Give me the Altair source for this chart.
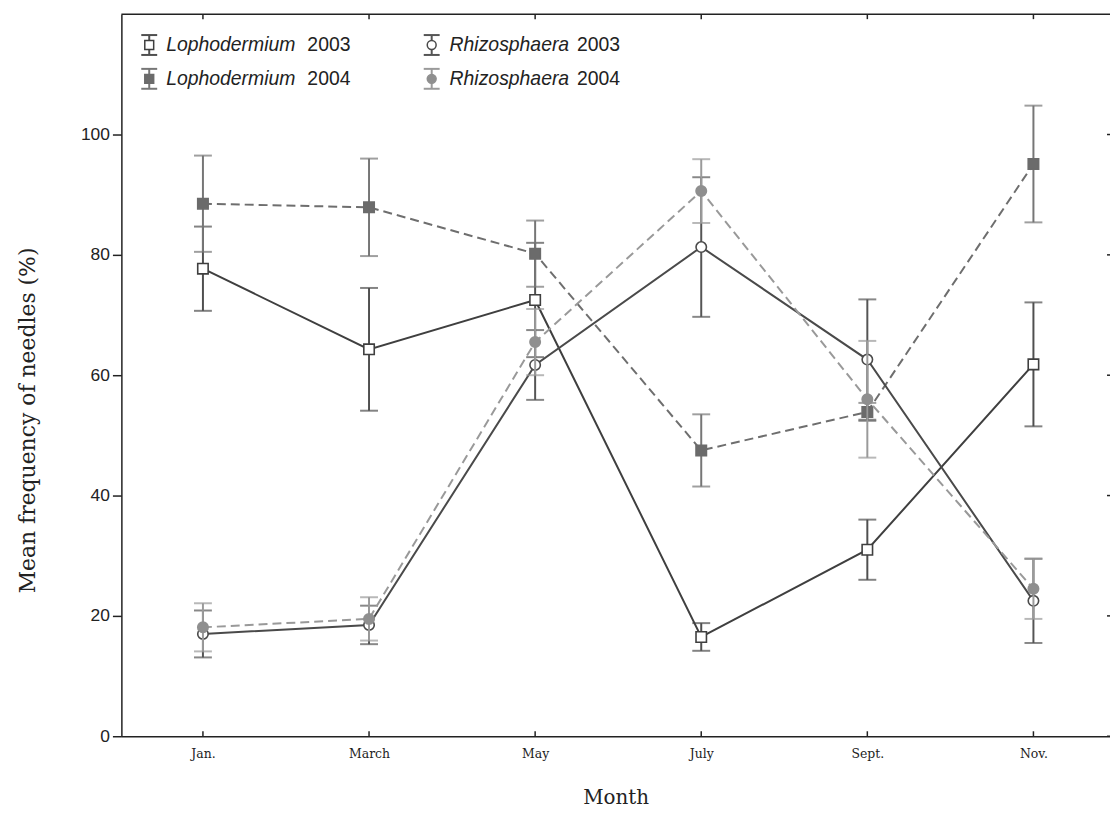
import json
import altair as alt
import pandas as pd

# ---------------- data ----------------
months = ["Jan.", "March", "May", "July", "Sept.", "Nov."]

loph_2003 = [77.7, 64.3, 72.5, 16.5, 31.0, 61.8]
loph_2003_err = [7.0, 10.2, 9.5, 2.3, 5.0, 10.3]

loph_2004 = [88.5, 87.9, 80.2, 47.5, 53.9, 95.1]
loph_2004_err = [8.0, 8.1, 5.5, 6.0, 1.5, 9.7]

rhizo_2003 = [17.0, 18.5, 61.7, 81.3, 62.6, 22.5]
rhizo_2003_err = [3.9, 3.2, 5.8, 11.6, 10.0, 7.0]

rhizo_2004 = [18.1, 19.5, 65.5, 90.6, 56.0, 24.5]
rhizo_2004_err = [4.0, 3.6, 5.5, 5.3, 9.7, 5.0]

y_ticks = [0, 20, 40, 60, 80, 100]

legend_species = ["Lophodermium", "Lophodermium", "Rhizosphaera", "Rhizosphaera"]
legend_years = ["2003", "2004", "2003", "2004"]

# ---------------- layout ----------------
W, H = 994, 726
SERIF = "DejaVu Serif"
SANS = "Liberation Sans"

xscale = alt.Scale(domain=[-0.491, 5.461], nice=False, zero=False)
yscale = alt.Scale(domain=[0, 120], nice=False, zero=True)

label_expr = json.dumps(months) + "[datum.value]"
xaxis = alt.Axis(
    values=list(range(len(months))), labelExpr=label_expr, ticks=False, tickSize=0,
    grid=False, domain=True, domainColor="#222222", domainWidth=1.5,
    labelFont=SERIF, labelFontSize=12.5, labelColor="#222222", labelPadding=11,
    title="Month", titleFont=SERIF, titleFontSize=20, titleFontWeight="normal",
    titleColor="#222222", titleX=W / 2, titleY=62, titleBaseline="middle",
    titleAlign="center",
)
yaxis = alt.Axis(
    values=y_ticks, grid=False, domain=True, domainColor="#222222", domainWidth=1.5,
    ticks=True, tickSize=9, tickColor="#222222", tickWidth=1.5,
    labelFont=SANS, labelFontSize=17.5, labelColor="#222222", labelPadding=3,
    title="Mean frequency of needles (%)", titleFont=SERIF, titleFontSize=22,
    titleFontWeight="normal", titleColor="#222222", titleAngle=-90,
    titleX=-94, titleY=408, titleAlign="center", titleBaseline="middle",
)


def X():
    return alt.X("m:Q", scale=xscale, axis=xaxis)


def Y(field):
    return alt.Y(f"{field}:Q", scale=yscale, axis=yaxis)


def series_layers(vals, errs, line_color, err_color, marker_fill, marker_stroke,
                  shape, dash, interp):
    df = pd.DataFrame({
        "m": list(range(len(months))),
        "v": vals,
        "lo": [v - e for v, e in zip(vals, errs)],
        "hi": [v + e for v, e in zip(vals, errs)],
    })
    base = alt.Chart(df)
    err = base.mark_rule(color=err_color, strokeWidth=2).encode(
        x=X(), y=Y("lo"), y2="hi:Q")
    cap_hi = base.mark_tick(orient="horizontal", color=err_color, size=18,
                            thickness=2).encode(x=X(), y=Y("hi"))
    cap_lo = base.mark_tick(orient="horizontal", color=err_color, size=18,
                            thickness=2).encode(x=X(), y=Y("lo"))
    line_kw = dict(color=line_color, strokeWidth=2, interpolate=interp)
    if dash:
        line_kw["strokeDash"] = dash
    line = base.mark_line(**line_kw).encode(x=X(), y=Y("v"))
    pts = base.mark_point(shape=shape, filled=True, size=110, fill=marker_fill,
                          stroke=marker_stroke, strokeWidth=1.6, opacity=1).encode(
        x=X(), y=Y("v"))
    return [err, cap_hi, cap_lo, line, pts]


styles = [
    dict(vals=loph_2003, errs=loph_2003_err, line_color="#3f3f3f", err_color="#4f4f4f",
         marker_fill="white", marker_stroke="#3f3f3f", shape="square", dash=None,
         interp="linear"),
    dict(vals=loph_2004, errs=loph_2004_err, line_color="#6e6e6e", err_color="#767676",
         marker_fill="#6b6b6b", marker_stroke="#6b6b6b", shape="square", dash=[9, 5],
         interp="linear"),
    dict(vals=rhizo_2003, errs=rhizo_2003_err, line_color="#4a4a4a", err_color="#555555",
         marker_fill="white", marker_stroke="#4a4a4a", shape="circle", dash=None,
         interp="linear"),
    dict(vals=rhizo_2004, errs=rhizo_2004_err, line_color="#999999", err_color="#9a9a9a",
         marker_fill="#8f8f8f", marker_stroke="#8f8f8f", shape="circle", dash=[9, 5],
         interp="linear"),
]

layers = []
for st in styles:
    layers += series_layers(**st)

# ---------------- frame decorations ----------------
month_df = pd.DataFrame({"m": list(range(len(months)))})
ytick_df = pd.DataFrame({"t": y_ticks})
one = pd.DataFrame({"k": [0]})

top_line = alt.Chart(one).mark_rule(color="#222222", strokeWidth=1.5).encode(
    x=alt.value(0), x2=alt.value(W + 2), y=alt.value(0))
top_ticks = alt.Chart(month_df).mark_rule(color="#222222", strokeWidth=1.5).encode(
    x=X(), y=alt.value(0), y2=alt.value(5))
bottom_ticks = alt.Chart(month_df).mark_rule(color="#222222", strokeWidth=1.5).encode(
    x=X(), y=alt.value(H - 5), y2=alt.value(H))
right_ticks = alt.Chart(ytick_df).mark_rule(color="#222222", strokeWidth=1.5).encode(
    y=alt.Y("t:Q", scale=yscale, axis=yaxis), x=alt.value(W - 3), x2=alt.value(W + 2))
layers += [top_line, top_ticks, bottom_ticks, right_ticks]

# ---------------- legend (hand-built) ----------------
legend_pos = [(28, 31), (28, 65), (312, 31), (312, 65)]
text_dx = [17, 17, 18, 18]
year_dx = [159, 159, 146, 146]
for i, st in enumerate(styles):
    cx, cy = legend_pos[i]
    c = st["err_color"]
    layers.append(alt.Chart(one).mark_rule(color=c, strokeWidth=2).encode(
        x=alt.value(cx), y=alt.value(cy - 10), y2=alt.value(cy + 10)))
    for dy in (-10, 10):
        layers.append(alt.Chart(one).mark_rule(color=c, strokeWidth=2).encode(
            x=alt.value(cx - 8), x2=alt.value(cx + 8), y=alt.value(cy + dy)))
    layers.append(alt.Chart(one).mark_point(
        shape=st["shape"], filled=True, size=80, fill=st["marker_fill"],
        stroke=st["marker_stroke"], strokeWidth=1.5, opacity=1).encode(
        x=alt.value(cx), y=alt.value(cy)))
    layers.append(alt.Chart(one).mark_text(
        text=legend_species[i], font=SANS, fontSize=19.5, fontStyle="italic",
        color="#222222", align="left", baseline="middle").encode(
        x=alt.value(cx + text_dx[i]), y=alt.value(cy)))
    layers.append(alt.Chart(one).mark_text(
        text=legend_years[i], font=SANS, fontSize=19.5, color="#222222",
        align="left", baseline="middle").encode(
        x=alt.value(cx + year_dx[i]), y=alt.value(cy)))

chart = alt.layer(*layers).properties(
    width=W, height=H,
    padding={"left": 114, "top": 4, "right": 0, "bottom": 80},
    autosize=alt.AutoSizeParams(type="none"),
    background="white",
).configure_view(stroke=None)

chart.save("out.html", embed_options={"renderer": "svg", "actions": False})
